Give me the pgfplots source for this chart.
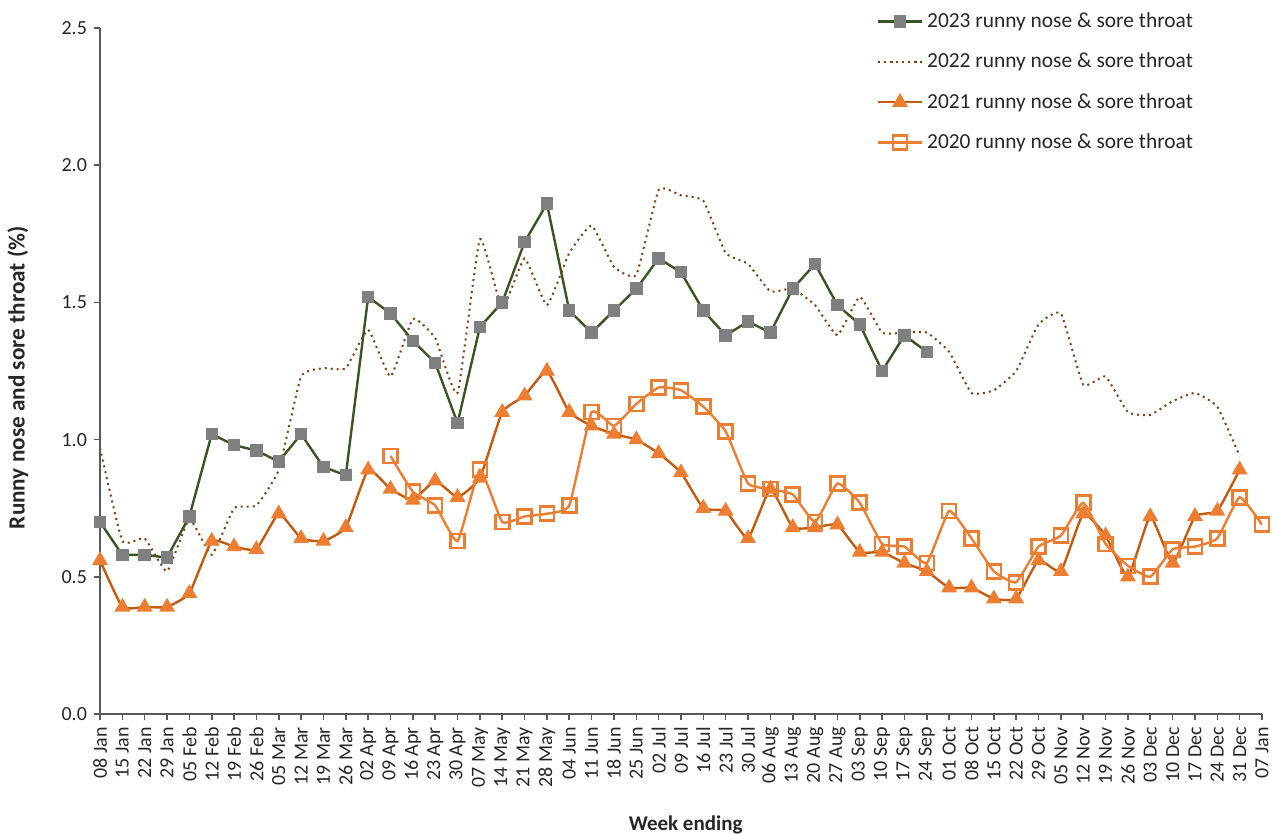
\documentclass[border=0pt]{standalone}
\usepackage{fontspec}
\setmainfont{Carlito}
\usepackage{pgfplots}
\pgfplotsset{compat=1.18}
\definecolor{c23line}{HTML}{375623}
\definecolor{c23mark}{HTML}{7F7F7F}
\definecolor{c22}{HTML}{843C0C}
\definecolor{c21line}{HTML}{C55A11}
\definecolor{c21mark}{HTML}{ED7D31}
\definecolor{c20}{HTML}{ED7D31}
\definecolor{axisgray}{HTML}{595959}
\begin{document}
\begin{tikzpicture}
\useasboundingbox (-50pt,-60pt) rectangle (589.5pt,357pt);
\begin{axis}[
  at={(0pt,0pt)}, anchor=south west,
  scale only axis, width=581pt, height=343pt,
  xmin=0, xmax=52, ymin=0, ymax=2.5,
  axis x line=bottom, axis y line=left,
  axis line style={-, axisgray, line width=0.8pt},
  tick style={axisgray, line width=0.8pt},
  tick align=outside, major tick length=3pt,
  xtick={0,...,52},
  xticklabels={08 Jan,15 Jan,22 Jan,29 Jan,05 Feb,12 Feb,19 Feb,26 Feb,05 Mar,12 Mar,19 Mar,26 Mar,02 Apr,09 Apr,16 Apr,23 Apr,30 Apr,07 May,14 May,21 May,28 May,04 Jun,11 Jun,18 Jun,25 Jun,02 Jul,09 Jul,16 Jul,23 Jul,30 Jul,06 Aug,13 Aug,20 Aug,27 Aug,03 Sep,10 Sep,17 Sep,24 Sep,01 Oct,08 Oct,15 Oct,22 Oct,29 Oct,05 Nov,12 Nov,19 Nov,26 Nov,03 Dec,10 Dec,17 Dec,24 Dec,31 Dec,07 Jan},
  x tick label style={rotate=90, anchor=east, font=\fontsize{10}{12}\selectfont, text=black!85},
  ytick={0,0.5,1,1.5,2,2.5},
  y tick label style={font=\fontsize{10}{12}\selectfont, text=black!85,
    /pgf/number format/.cd, fixed, fixed zerofill, precision=1, assume math mode=true},
  xlabel={Week ending},
  ylabel={Runny nose and sore throat (\%)},
  xlabel style={at={(axis description cs:0.504,-0.162)}, anchor=center, font=\bfseries\fontsize{10.5}{12}\selectfont, text=black!85},
  ylabel style={at={(axis description cs:-0.0706,0.49)}, anchor=center, font=\bfseries\fontsize{11.6}{13}\selectfont, text=black!85},
  legend style={at={(axis description cs:0.663,1.035)}, anchor=north west, draw=none, fill=none,
    font=\fontsize{10.7}{12}\selectfont, text=black!85, row sep=7.3pt},
  legend cell align=left,
  legend image code/.code={\draw[mark repeat=2,mark phase=2,#1] plot coordinates {(0pt,0pt)(11pt,0pt)(22pt,0pt)};},
]
\addplot[c23line, line width=1.2pt, mark=square*, mark size=2.5pt, mark options={fill=c23mark, draw=c23mark, solid}] table {
x y
0 0.70
1 0.58
2 0.58
3 0.57
4 0.72
5 1.02
6 0.98
7 0.96
8 0.92
9 1.02
10 0.90
11 0.87
12 1.52
13 1.46
14 1.36
15 1.28
16 1.06
17 1.41
18 1.50
19 1.72
20 1.86
21 1.47
22 1.39
23 1.47
24 1.55
25 1.66
26 1.61
27 1.47
28 1.38
29 1.43
30 1.39
31 1.55
32 1.64
33 1.49
34 1.42
35 1.25
36 1.38
37 1.32
};
\addlegendentry{2023 runny nose \& sore throat}
\addplot[c22, line width=1pt, dotted, smooth, tension=0.25] table {
x y
0 0.97
1 0.63
2 0.64
3 0.52
4 0.71
5 0.58
6 0.75
7 0.76
8 0.89
9 1.23
10 1.26
11 1.26
12 1.40
13 1.23
14 1.44
15 1.37
16 1.17
17 1.73
18 1.48
19 1.66
20 1.49
21 1.68
22 1.78
23 1.63
24 1.60
25 1.91
26 1.89
27 1.87
28 1.68
29 1.64
30 1.54
31 1.55
32 1.49
33 1.38
34 1.52
35 1.39
36 1.39
37 1.39
38 1.32
39 1.17
40 1.18
41 1.25
42 1.42
43 1.46
44 1.20
45 1.23
46 1.10
47 1.09
48 1.14
49 1.17
50 1.12
51 0.94
};
\addlegendentry{2022 runny nose \& sore throat}
\addplot[c21line, line width=1.2pt, smooth, tension=0.25, mark=triangle*, mark size=3.4pt, mark options={fill=c21mark, draw=c21mark}] table {
x y
0 0.56
1 0.39
2 0.39
3 0.39
4 0.44
5 0.63
6 0.61
7 0.60
8 0.73
9 0.64
10 0.63
11 0.68
12 0.89
13 0.82
14 0.78
15 0.85
16 0.79
17 0.86
18 1.10
19 1.16
20 1.25
21 1.10
22 1.05
23 1.02
24 1.00
25 0.95
26 0.88
27 0.75
28 0.74
29 0.64
30 0.82
31 0.68
32 0.68
33 0.69
34 0.59
35 0.59
36 0.55
37 0.52
38 0.46
39 0.46
40 0.42
41 0.42
42 0.56
43 0.52
44 0.73
45 0.65
46 0.50
47 0.72
48 0.55
49 0.72
50 0.74
51 0.89
};
\addlegendentry{2021 runny nose \& sore throat}
\addplot[c20, line width=1.2pt, smooth, tension=0.25, mark=square, mark size=3.5pt, mark options={solid, line width=1.3pt}] table {
x y
13 0.94
14 0.81
15 0.76
16 0.63
17 0.89
18 0.70
19 0.72
20 0.73
21 0.76
22 1.10
23 1.05
24 1.13
25 1.19
26 1.18
27 1.12
28 1.03
29 0.84
30 0.82
31 0.80
32 0.70
33 0.84
34 0.77
35 0.62
36 0.61
37 0.55
38 0.74
39 0.64
40 0.52
41 0.48
42 0.61
43 0.65
44 0.77
45 0.62
46 0.54
47 0.50
48 0.60
49 0.61
50 0.64
51 0.79
52 0.69
};
\addlegendentry{2020 runny nose \& sore throat}
\end{axis}
\end{tikzpicture}
\end{document}
